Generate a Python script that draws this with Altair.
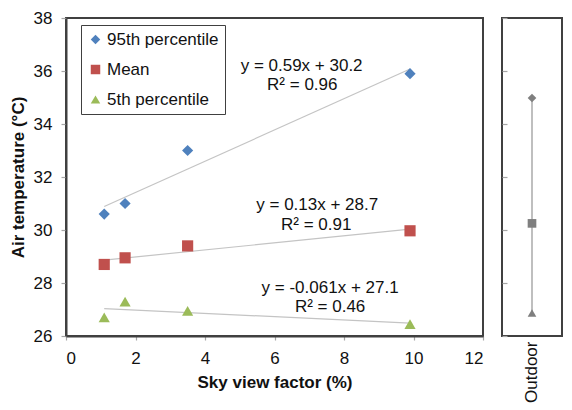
import altair as alt
import pandas as pd

# ---- data ----
svf = [1.1, 1.7, 3.5, 9.9]
p95 = [30.6, 31.0, 33.0, 35.9]
mean_t = [28.7, 28.95, 29.4, 29.97]
p5 = [26.7, 27.3, 26.95, 26.45]

series_names = ["95th percentile", "Mean", "5th percentile"]
series_colors = ["#4F81BD", "#C0504D", "#9BBB59"]
series_shapes = ["diamond", "square", "triangle-up"]

outdoor_values = [34.98, 30.25, 26.87]

eq_text = ["y = 0.59x + 30.2", "R² = 0.96",
           "y = 0.13x + 28.7", "R² = 0.91",
           "y = -0.061x + 27.1", "R² = 0.46"]
eq_x = [6.78, 6.8, 7.23, 7.2, 7.6, 7.6]
eq_y = [36.2, 35.47, 30.95, 30.2, 27.8, 27.1]

FONT = "Liberation Sans"
FRAME = "#404040"

rows = []
for name, vals in zip(series_names, [p95, mean_t, p5]):
    for x, y in zip(svf, vals):
        rows.append({"series": name, "svf": x, "temp": y})
df = pd.DataFrame(rows)
eq_df = pd.DataFrame({"t": eq_text, "x": eq_x, "y": eq_y})
out_df = pd.DataFrame({"series": series_names, "temp": outdoor_values, "loc": ["Outdoor"] * 3})

xscale = alt.Scale(domain=[0, 12], nice=False)
yscale = alt.Scale(domain=[26, 38], nice=False, zero=False)

base = alt.Chart(df)

trend = base.transform_regression("svf", "temp", groupby=["series"]).mark_line(
    color="#C4C4C4", strokeWidth=1.2
).encode(
    x=alt.X("svf:Q", scale=xscale),
    y=alt.Y("temp:Q", scale=yscale),
    detail="series:N",
)

points = base.mark_point(filled=True, opacity=1, size=125).encode(
    x=alt.X("svf:Q", scale=xscale,
            axis=alt.Axis(title="Sky view factor (%)", values=[0, 2, 4, 6, 8, 10, 12],
                          tickSize=4, labelPadding=10, titlePadding=8, grid=False)),
    y=alt.Y("temp:Q", scale=yscale,
            axis=alt.Axis(title="Air temperature (°C)", values=[26, 28, 30, 32, 34, 36, 38],
                          tickSize=5, labelPadding=9, titlePadding=6, grid=False)),
    color=alt.Color("series:N",
                    scale=alt.Scale(domain=series_names, range=series_colors),
                    legend=alt.Legend(title=None, orient="none", legendX=15, legendY=7,
                                      strokeColor=FRAME, fillColor="white", padding=6,
                                      labelFontSize=17, labelFont=FONT, labelColor="#111",
                                      symbolSize=90, rowPadding=12, labelOffset=3,
                                      symbolStrokeWidth=0)),
    shape=alt.Shape("series:N",
                    scale=alt.Scale(domain=series_names, range=series_shapes)),
)

eqs = alt.Chart(eq_df).mark_text(font=FONT, fontSize=17, color="#111", align="center",
                                 baseline="middle").encode(
    x=alt.X("x:Q", scale=xscale), y=alt.Y("y:Q", scale=yscale), text="t:N"
)

main = alt.layer(trend, points, eqs).properties(width=417, height=318)

rule = alt.Chart(out_df).mark_rule(color="#BFBFBF", strokeWidth=2).encode(
    x=alt.X("loc:N"),
    y=alt.Y("min(temp):Q", scale=yscale),
    y2="max(temp):Q",
)
opts = alt.Chart(out_df).mark_point(filled=True, opacity=1, size=75, color="#7F7F7F").encode(
    x=alt.X("loc:N", title=None,
            axis=alt.Axis(labelAngle=270, ticks=False, tickSize=0, labelPadding=5,
                          domain=False, grid=False)),
    y=alt.Y("temp:Q", scale=yscale,
            axis=alt.Axis(title=None, labels=False, ticks=True, tickSize=5, offset=-5,
                          domain=False, grid=False, values=[26, 28, 30, 32, 34, 36, 38])),
    shape=alt.Shape("series:N", scale=alt.Scale(domain=series_names, range=series_shapes),
                    legend=None),
)
right = alt.layer(rule, opts).properties(width=60, height=318)

chart = alt.hconcat(main, right, spacing=15).resolve_scale(
    x="independent", y="independent", color="independent", shape="independent"
).properties(
    padding={"left": 0, "top": 0, "right": 0, "bottom": 0}
).configure(font=FONT).configure_view(
    stroke=FRAME, strokeWidth=2
).configure_axis(
    labelFont=FONT, labelFontSize=17, labelColor="#111",
    titleFont=FONT, titleFontSize=17, titleFontWeight="bold", titleColor="#111",
    domainColor=FRAME, domainWidth=2, tickColor="#A6A6A6", tickWidth=1.2,
)

chart.save("out.html", embed_options={"renderer": "svg", "actions": False})
